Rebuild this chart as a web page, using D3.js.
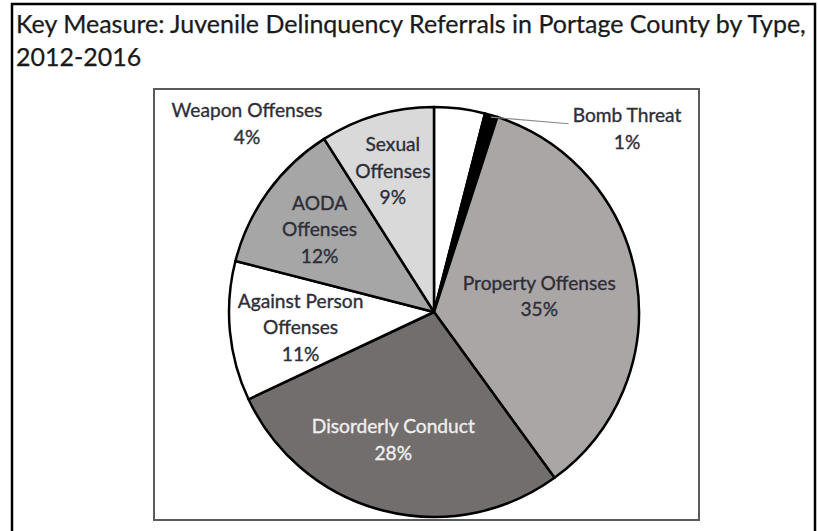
<!DOCTYPE html>
<html>
<head>
<meta charset="utf-8">
<script src="https://cdn.jsdelivr.net/npm/d3@7"></script>
<style>
  html, body { margin: 0; padding: 0; background: #fff; }
  svg { display: block; }
</style>
</head>
<body>
<svg id="chart" width="818" height="531"></svg>
<script>
// ---- data ----
const titleLines = ["Key Measure: Juvenile Delinquency Referrals in Portage County by Type,", "2012-2016"];
const categories = ["Weapon Offenses", "Bomb Threat", "Property Offenses", "Disorderly Conduct", "Against Person Offenses", "AODA Offenses", "Sexual Offenses"];
const values = [4, 1, 35, 28, 11, 12, 9];
const labelLines = [["Weapon Offenses", "4%"], ["Bomb Threat", "1%"], ["Property Offenses", "35%"], ["Disorderly Conduct", "28%"], ["Against Person", "Offenses", "11%"], ["AODA", "Offenses", "12%"], ["Sexual", "Offenses", "9%"]];
const colors = ["#ffffff", "#000000", "#aaa6a6", "#736e6e", "#ffffff", "#a6a6a6", "#d9d9d9"];

// ---- layout ----
const W = 818, H = 531;
const FONT = "Lato, 'Open Sans', sans-serif";
const svg = d3.select("#chart");

// outer frame
svg.append("rect").attr("x", 12).attr("y", 4).attr("width", 803).attr("height", H + 10)
  .attr("fill", "#fff").attr("stroke", "#000").attr("stroke-width", 2.5);

// title
const title = svg.append("g");
titleLines.forEach((t, i) => {
  title.append("text").attr("x", 16).attr("y", 33 + i * 33)
    .attr("font-family", FONT).attr("font-size", 22).attr("fill", "#1a1a1a")
    .attr("stroke", "#1a1a1a").attr("stroke-width", 0.25).text(t);
});
{
  const t0 = title.select("text").node();
  const w = t0.getComputedTextLength();
  const fs = 22 * 790 / w;
  title.selectAll("text").attr("font-size", fs);
}

// inner chart box
svg.append("rect").attr("x", 154).attr("y", 89).attr("width", 545).attr("height", 431)
  .attr("fill", "#fff").attr("stroke", "#5a5a5a").attr("stroke-width", 2);

const cx = 434, cy = 312, R = 205;
const pie = d3.pie().sort(null).value(d => d)(values);
const arc = d3.arc().innerRadius(0).outerRadius(R);
const g = svg.append("g").attr("transform", `translate(${cx},${cy})`);

g.selectAll("path.slice").data(pie).join("path").attr("class", "slice")
  .attr("d", arc)
  .attr("fill", (d, i) => colors[i])
  .attr("stroke", "#000").attr("stroke-width", 2.5).attr("stroke-linejoin", "round");

// label placement (radius factor along the slice's mid angle; outside labels given explicitly)
const placement = {
  "Weapon Offenses": { x: 247 - cx, y: 123 - cy },
  "Bomb Threat": { x: 627 - cx, y: 128 - cy },
  "Property Offenses": { rf: 0.52 },
  "Disorderly Conduct": { rf: 0.65, da: 3.4 },
  "Against Person Offenses": { rf: 0.655, da: -1 },
  "AODA Offenses": { rf: 0.69 },
  "Sexual Offenses": { rf: 0.72 }
};
const lineH = 26.5;

const probe = svg.append("text").attr("font-family", FONT).attr("font-size", 20).text("Disorderly Conduct");
const labelFS = 20 * 163 / probe.node().getComputedTextLength();
probe.remove();

const labels = svg.append("g").attr("transform", `translate(${cx},${cy})`);
pie.forEach((d, i) => {
  const p = placement[categories[i]];
  let x, y;
  if (p.x !== undefined) { x = p.x; y = p.y; }
  else {
    const a = (d.startAngle + d.endAngle) / 2 + (p.da || 0) * Math.PI / 180;
    x = Math.sin(a) * R * p.rf; y = -Math.cos(a) * R * p.rf;
  }
  const lines = labelLines[i];
  const col = categories[i] === "Disorderly Conduct" ? "#f0f0f0" : "#2e2e38";
  const t = labels.append("text")
    .attr("font-family", FONT).attr("font-size", labelFS)
    .attr("text-anchor", "middle")
    .attr("fill", col).attr("stroke", col).attr("stroke-width", 0.35);
  lines.forEach((ln, j) => {
    t.append("tspan").attr("x", x)
      .attr("y", y + (j - (lines.length - 1) / 2) * lineH)
      .attr("dominant-baseline", "central").text(ln);
  });
  if (categories[i] === "Bomb Threat") {
    const a = (d.startAngle + d.endAngle) / 2;
    const bb = t.node().getBBox();
    labels.insert("line", "text")
      .attr("x1", Math.sin(a) * R * 0.99).attr("y1", -Math.cos(a) * R * 0.99)
      .attr("x2", bb.x - 4).attr("y2", y - lineH / 2 + 9)
      .attr("stroke", "#8a8a8a").attr("stroke-width", 1.2);
  }
});
</script>
</body>
</html>
